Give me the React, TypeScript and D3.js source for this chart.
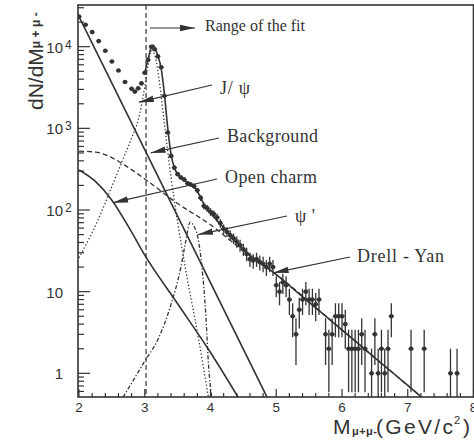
import React, { useEffect, useRef } from 'react';
import * as d3 from 'd3';

// measured dimuon spectrum: mass (GeV/c^2) and counts per bin
const dataMass = [
  2.0, 2.1, 2.2, 2.3, 2.4, 2.5, 2.6, 2.7, 2.8, 2.85, 2.9, 2.95,
  3.0, 3.05, 3.1, 3.15, 3.2, 3.25, 3.3, 3.35, 3.4, 3.45,
  3.5, 3.55, 3.6, 3.65, 3.7, 3.75, 3.8, 3.85, 3.9, 3.95,
  4.0, 4.05, 4.1, 4.15, 4.2, 4.25, 4.3, 4.35, 4.4, 4.45,
  4.5, 4.55, 4.6, 4.65, 4.7, 4.75, 4.8, 4.85, 4.9, 4.95,
  5.0, 5.05, 5.1, 5.15, 5.2, 5.25, 5.3, 5.35, 5.4, 5.45,
  5.5, 5.55, 5.6, 5.65, 5.75, 5.8, 5.85, 5.9, 5.95, 6.0,
  6.05, 6.1, 6.15, 6.2, 6.25, 6.3, 6.35, 6.45, 6.5, 6.55,
  6.6, 6.65, 6.7, 6.75, 7.05, 7.25, 7.65, 7.75
];
const dataCounts = [
  23400, 18600, 15100, 11700, 8900, 6600, 5100, 3700, 3050, 2820, 3090, 3550,
  4790, 6900, 10000, 9300, 7600, 5600, 2500, 890, 460, 330,
  275, 250, 236, 212, 205, 196, 174, 141, 112, 105,
  95, 89, 81, 69, 59, 54, 49, 45, 41, 37,
  33, 29, 25, 24, 25, 23, 22, 20, 22, 20,
  12, 10, 13, 12, 8, 5, 3, 6, 8, 10,
  8, 8, 7, 8, 3, 2, 3, 5, 5, 5,
  4, 2, 2, 2, 2, 3, 2, 1, 3, 1,
  2, 1, 2, 5, 2, 2, 1, 1
];

// total fit (drawn inside the fit range only)
const fitMass = [3.0, 3.05, 3.1, 3.125, 3.15, 3.2, 3.25, 3.3, 3.35, 3.4, 3.45, 3.5, 3.6, 3.7, 3.8, 3.9, 4.0, 4.25, 4.5, 5.0, 5.5, 6.0, 6.5, 7.0, 7.25];
const fitValues = [4790, 7000, 9900, 10500, 9900, 7700, 5400, 2600, 1000, 480, 330, 275, 232, 208, 170, 118, 92, 55, 33, 16.2, 7.4, 3.4, 1.55, 0.71, 0.48];

// fit components
const bgMass = [2.0, 4.86];
const bgValues = [23400, 0.51];

const charmMass = [2.0, 2.25, 2.5, 2.75, 3.0, 3.5, 4.0, 4.42];
const charmValues = [309, 224, 132, 63, 28, 7.1, 1.8, 0.51];

const jpsiMass = [2.0, 2.3, 2.5, 2.7, 2.8, 2.9, 3.0, 3.05, 3.1, 3.15, 3.2, 3.3, 3.4, 3.5, 3.62, 3.8, 3.97];
const jpsiValues = [26, 79, 195, 480, 760, 1260, 3200, 6000, 8900, 8000, 5000, 1120, 250, 71, 19, 3.2, 0.5];

const psiPrimeMass = [2.67, 2.8, 3.0, 3.2, 3.4, 3.55, 3.62, 3.69, 3.75, 3.81, 3.87, 3.93, 3.97, 4.02];
const psiPrimeValues = [0.51, 0.76, 1.41, 2.6, 7, 20, 40, 71, 63, 45, 20, 5, 1.26, 0.5];

const dyMass = [2.0, 2.25, 2.5, 2.75, 3.0, 3.5, 4.0, 4.5, 5.0, 6.0, 7.0, 7.25];
const dyValues = [525, 513, 437, 331, 240, 120, 66, 31.6, 16.2, 3.4, 0.71, 0.48];

const fitStart = 3.02;

// axis ticks
const xTickValues = [2, 3, 4, 5, 6, 7, 8];
const yTickValues = [1, 10, 100, 1000, 10000];
const yTickBases = ['1', '10', '10', '10', '10'];
const yTickExps = ['', '', '2', '3', '4'];

const SANS = '"Liberation Sans", Arial, Helvetica, sans-serif';
const SERIF = '"Liberation Serif", "Times New Roman", serif';
const INK = '#333';

function DimuonSpectrum() {
  const chartRef = useRef<HTMLDivElement>(null);

  useEffect(() => {
    if (!chartRef.current) return;
    const width = 474, height = 445;
    const margin = { top: 5, right: 0.5, bottom: 48, left: 79 };

    d3.select(chartRef.current).select('svg').remove(); // clear previous

    const svg = d3.select(chartRef.current)
      .append('svg')
        .attr('width', width)
        .attr('height', height)
        .style('display', 'block')
        .style('background', '#fff');

    const x = d3.scaleLinear()
      .domain([2, 8])
      .range([margin.left, width - margin.right]);

    const y = d3.scaleLog()
      .domain([0.513, 32400])
      .range([height - margin.bottom, margin.top]);

    const [, x1] = x.range();
    const [yb, yt] = y.range();

    svg.append('clipPath').attr('id', 'plotArea')
      .append('rect')
        .attr('x', 78).attr('y', yt)
        .attr('width', x1 - 78).attr('height', yb - yt);

    const plot = svg.append('g').attr('clip-path', 'url(#plotArea)');

    const lineOf = (xs: number[], vs: number[]) => d3.line<number>()
      .x(i => x(xs[i]))
      .y(i => y(vs[i]))
      .curve(d3.curveMonotoneX)(d3.range(xs.length));

    // components
    const comp = (xs: number[], vs: number[], dash: string | null, w = 1.3) => {
      const p = plot.append('path')
        .attr('d', lineOf(xs, vs))
        .attr('fill', 'none')
        .attr('stroke', INK)
        .attr('stroke-width', w);
      if (dash) p.attr('stroke-dasharray', dash);
      return p;
    };
    comp(dyMass, dyValues, '5,3', 1.3);
    comp(jpsiMass, jpsiValues, '1.3,2.2', 1.3);
    comp(psiPrimeMass, psiPrimeValues, '4,2,1.3,2', 1.3);
    comp(charmMass, charmValues, null, 1.6);
    comp(bgMass, bgValues, null, 1.6);
    comp(fitMass, fitValues, null, 1.6);

    // fit range marker
    plot.append('line')
      .attr('x1', x(fitStart)).attr('x2', x(fitStart))
      .attr('y1', yt).attr('y2', yb)
      .attr('stroke', INK)
      .attr('stroke-width', 1.2)
      .attr('stroke-dasharray', '5,3');

    // data points with sqrt(N) errors
    const pts = plot.append('g');
    dataMass.forEach((m, i) => {
      const n = dataCounts[i];
      const e = Math.sqrt(n);
      const cx = x(m);
      pts.append('line')
        .attr('x1', cx).attr('x2', cx)
        .attr('y1', y(n + e)).attr('y2', y(Math.max(n - e, 0.05)))
        .attr('stroke', INK).attr('stroke-width', 1.3);
      pts.append('line')
        .attr('x1', cx - 2.5).attr('x2', cx + 2.5)
        .attr('y1', y(n)).attr('y2', y(n))
        .attr('stroke', INK).attr('stroke-width', 1.3);
      pts.append('circle')
        .attr('cx', cx).attr('cy', y(n))
        .attr('r', 2.3)
        .attr('fill', INK);
    });

    // frame
    svg.append('rect')
      .attr('x', 78).attr('y', yt)
      .attr('width', x1 - 78).attr('height', yb - yt)
      .attr('fill', 'none')
      .attr('stroke', INK)
      .attr('stroke-width', 1.6);

    // x ticks (inward)
    const xt = svg.append('g');
    d3.range(2, 8.001, 0.2).forEach(v => {
      const major = Math.abs(v - Math.round(v)) < 1e-6;
      xt.append('line')
        .attr('x1', x(v)).attr('x2', x(v))
        .attr('y1', yb).attr('y2', yb - (major ? 8 : 4))
        .attr('stroke', INK).attr('stroke-width', 1.2);
    });
    xTickValues.forEach(v => {
      xt.append('text')
        .attr('x', x(v)).attr('y', 412)
        .attr('text-anchor', 'middle')
        .style('font-family', SANS).style('font-size', '13.5px')
        .attr('fill', INK)
        .text(String(v));
    });

    // y ticks (inward)
    const ytg = svg.append('g');
    y.ticks().forEach(v => {
      const major = yTickValues.includes(v);
      ytg.append('line')
        .attr('x1', 78).attr('x2', 78 + (major ? 12 : 6))
        .attr('y1', y(v)).attr('y2', y(v))
        .attr('stroke', INK).attr('stroke-width', 1.2);
    });
    yTickValues.forEach((v, i) => {
      ytg.append('text')
        .attr('x', 63).attr('y', y(v) + 6)
        .attr('text-anchor', 'end')
        .style('font-family', SANS).style('font-size', '15px')
        .attr('fill', INK)
        .text(yTickBases[i]);
      if (yTickExps[i]) {
        ytg.append('text')
          .attr('x', 65).attr('y', y(v) + 2)
          .style('font-family', SANS).style('font-size', '12px')
          .attr('fill', INK)
          .text(yTickExps[i]);
      }
    });

    // axis titles
    const yl = svg.append('text')
      .attr('transform', 'translate(43,110) rotate(-90)')
      .style('font-family', SANS).style('font-size', '21px')
      .attr('fill', INK);
    yl.append('tspan').text('dN/dM');
    yl.append('tspan')
      .attr('dy', -3)
      .attr('textLength', 36)
      .style('font-size', '12px').style('font-weight', 'bold')
      .text('μ+μ-');

    const xl = svg.append('g')
      .style('font-family', SANS)
      .attr('fill', INK);
    xl.append('text').attr('x', 333).attr('y', 434).style('font-size', '21px').text('M');
    xl.append('text').attr('x', 352).attr('y', 435)
      .attr('textLength', 25)
      .style('font-size', '11px').style('font-weight', 'bold')
      .text('μ+μ-');
    xl.append('text').attr('x', 376).attr('y', 434)
      .attr('textLength', 77)
      .style('font-size', '21px')
      .text('(GeV/c');
    xl.append('text').attr('x', 454).attr('y', 424).style('font-size', '11px').text('2');
    xl.append('text').attr('x', 463).attr('y', 434).style('font-size', '21px').text(')');

    // annotations
    const defs = svg.append('defs');
    defs.append('marker')
      .attr('id', 'head')
      .attr('markerUnits', 'userSpaceOnUse')
      .attr('markerWidth', 16).attr('markerHeight', 8)
      .attr('viewBox', '0 -4 16 8')
      .attr('refX', 15).attr('refY', 0)
      .attr('orient', 'auto')
      .append('path')
        .attr('d', 'M0,-3.2L15,0L0,3.2Z')
        .attr('fill', INK);

    const notes = [
      { label: 'J/ ψ', lx: 220, ly: 94, len: 30, sx: 212, sy: 85, tm: 2.91, tv: 2090 },
      { label: 'Background', lx: 227, ly: 142, len: 91, sx: 219, sy: 138, tm: 3.09, tv: 500 },
      { label: 'Open charm', lx: 225, ly: 183, len: 92, sx: 217, sy: 179, tm: 2.52, tv: 123 },
      { label: "ψ '", lx: 295, ly: 222, len: 20, sx: 287, sy: 216, tm: 3.81, tv: 50 },
      { label: 'Drell - Yan', lx: 357, ly: 262, len: 87, sx: 350, sy: 257, tm: 4.96, tv: 17 },
    ];

    const ann = svg.append('g');
    notes.forEach(n => {
      ann.append('line')
        .attr('x1', n.sx).attr('y1', n.sy)
        .attr('x2', x(n.tm)).attr('y2', y(n.tv))
        .attr('stroke', INK).attr('stroke-width', 1.2)
        .attr('marker-end', 'url(#head)');
      ann.append('text')
        .attr('x', n.lx).attr('y', n.ly)
        .attr('textLength', n.len)
        .style('font-family', SERIF).style('font-size', '18px')
        .attr('fill', INK)
        .text(n.label);
    });

    ann.append('line')
      .attr('x1', 150).attr('y1', 28)
      .attr('x2', 195).attr('y2', 28)
      .attr('stroke', INK).attr('stroke-width', 1.2)
      .attr('marker-end', 'url(#head)');
    ann.append('text')
      .attr('x', 205).attr('y', 31)
      .attr('textLength', 100)
      .style('font-family', SERIF).style('font-size', '16px')
      .attr('fill', INK)
      .text('Range of the fit');
  }, []);

  return <div ref={chartRef} style={{ position: 'absolute', left: 0, top: 0 }}></div>;
}

export default function App() {
  return <DimuonSpectrum />;
}
